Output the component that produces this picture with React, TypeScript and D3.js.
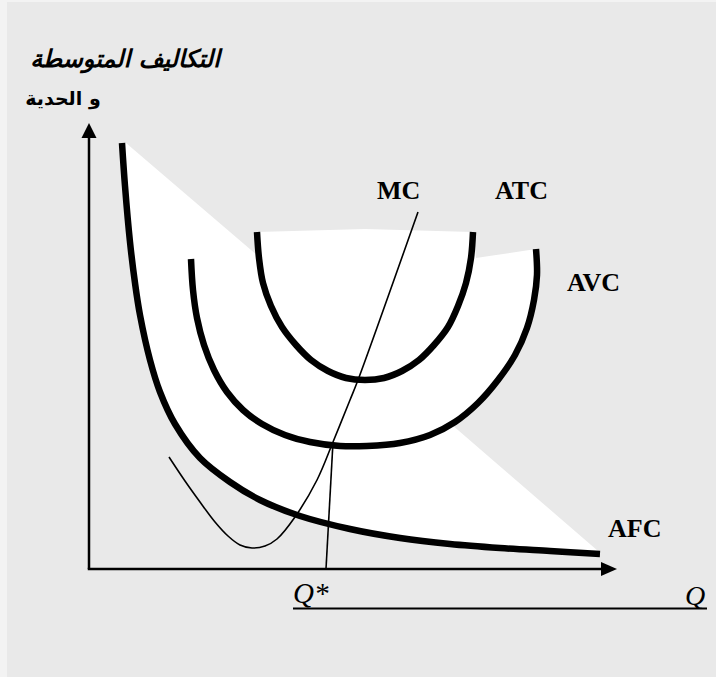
import React, { useEffect } from 'react';
import * as d3 from 'd3';

type P = [number, number];

// Data units: quantity (0..528) on x, cost (0..446) on y
const afcPoints: P[] = [
  [33, 426], [36, 383], [41, 327], [46, 286], [51, 254], [61, 209], [71, 177],
  [86, 145], [111, 111], [141, 87], [171, 69], [211, 53], [261, 40], [311, 31],
  [361, 25], [411, 21], [461, 18], [511, 15],
];
const atcPoints: P[] = [
  [168, 337], [170, 311], [174, 286], [182, 263], [193, 242], [207, 224], [222, 209],
  [239, 198], [257, 191], [276, 189], [295, 191], [313, 198], [330, 209], [345, 224],
  [359, 242], [369, 263], [377, 286], [382, 311], [384, 337],
];
const avcPoints: P[] = [
  [102, 310], [104, 279], [108, 251], [115, 224], [125, 199], [138, 177], [154, 159],
  [173, 145], [196, 134], [221, 127], [251, 123], [278, 123], [311, 126], [341, 134],
  [366, 147], [389, 166], [409, 189], [426, 214], [438, 241], [445, 269], [448, 294],
  [447, 320],
];
const mcPoints: P[] = [
  [80, 112], [96, 88], [111, 67], [126, 47], [139, 33], [151, 24], [163, 21],
  [176, 23], [188, 30], [206, 52], [228, 89], [244, 127], [261, 169], [269, 189],
  [329, 357],
];
const qStarLine: P[] = [[237, 0], [244, 127]];
// white region helpers
const diagonalStart: P = [37, 426];
const diagonalEnd: P = [509, 18];
const diagonalAvcCross: P = [362, 145];
const avcRightUpper: P[] = [
  [366, 147], [389, 166], [409, 189], [426, 214], [438, 241], [445, 269], [448, 294], [447, 320],
];
const capPoints: P[] = [[387, 311], [384, 337], [276, 340], [168, 337], [169, 313]];

const curveLabels = [
  { text: 'MC', x: 377, y: 199 },
  { text: 'ATC', x: 495, y: 199 },
  { text: 'AVC', x: 567, y: 291 },
  { text: 'AFC', x: 608, y: 537 },
];

export default function App() {
  useEffect(() => {
    document.body.style.margin = '0';
  }, []);

  const x = d3.scaleLinear().domain([0, 528]).range([89, 617]);
  const y = d3.scaleLinear().domain([0, 446]).range([569, 123]);
  const line = d3
    .line<P>()
    .x((d) => x(d[0]))
    .y((d) => y(d[1]))
    .curve(d3.curveCatmullRom.alpha(0.5));
  const straight = d3
    .line<P>()
    .x((d) => x(d[0]))
    .y((d) => y(d[1]));

  const L = (p: P) => `L${x(p[0])},${y(p[1])}`;
  const seg = (pts: P[]) => (line(pts) || '').replace(/^M/, 'L');
  const whiteD =
    (line(afcPoints) || '') +
    L(diagonalEnd) +
    L(diagonalAvcCross) +
    seg(avcRightUpper) +
    capPoints.map(L).join('') +
    L(diagonalStart) +
    'Z';

  const x0 = x(0);
  const y0 = y(0);
  const xEnd = x(528);
  const yTop = y(446);
  const qs = x(qStarLine[0][0]);

  return (
    <svg width={716} height={677} style={{ display: 'block', position: 'absolute', left: 0, top: 0 }}>
      <rect x={0} y={0} width={716} height={677} fill="#f3f3f3" />
      <rect x={7} y={2} width={709} height={675} fill="#e9e9e9" />
      <path d={whiteD} fill="#ffffff" stroke="none" />

      {/* axes */}
      <line x1={x0} y1={y0} x2={x0} y2={yTop + 12} stroke="#000" strokeWidth={2.5} />
      <path d={`M${x0},${yTop} L${x0 - 7.5},${yTop + 15} L${x0 + 7.5},${yTop + 15} Z`} fill="#000" />
      <line x1={x0 - 1.25} y1={y0} x2={xEnd - 12} y2={y0} stroke="#000" strokeWidth={2.5} />
      <path d={`M${xEnd},${y0} L${xEnd - 16},${y0 - 7} L${xEnd - 16},${y0 + 7} Z`} fill="#000" />

      {/* curves */}
      <path d={line(afcPoints) || ''} fill="none" stroke="#000" strokeWidth={6.5} />
      <path d={line(avcPoints) || ''} fill="none" stroke="#000" strokeWidth={6.5} />
      <path d={line(atcPoints) || ''} fill="none" stroke="#000" strokeWidth={6.5} />
      <path d={line(mcPoints) || ''} fill="none" stroke="#000" strokeWidth={1.6} />
      <path d={straight(qStarLine) || ''} fill="none" stroke="#000" strokeWidth={1.6} />

      {/* curve labels */}
      {curveLabels.map((l) => (
        <text
          key={l.text}
          x={l.x}
          y={l.y}
          fontFamily="'Liberation Serif', 'Times New Roman', serif"
          fontWeight="bold"
          fontSize={26}
          fill="#000"
        >
          {l.text}
        </text>
      ))}

      {/* quantity labels */}
      <text x={qs - 33} y={603} fontFamily="'Liberation Serif', serif" fontStyle="italic" fontSize={29} fill="#000">
        Q*
      </text>
      <text x={685} y={605} fontFamily="'Liberation Serif', serif" fontStyle="italic" fontSize={28} fill="#000">
        Q
      </text>
      <line x1={293} y1={608.5} x2={707} y2={608.5} stroke="#000" strokeWidth={2} />

      {/* y-axis title */}
      <text
        x={125}
        y={67}
        textAnchor="middle"
        fontFamily="'DejaVu Sans', sans-serif"
        fontWeight="bold"
        fontStyle="italic"
        fontSize={24}
        fill="#000"
      >
        التكاليف المتوسطة
      </text>
      <text
        x={63}
        y={105}
        textAnchor="middle"
        fontFamily="'DejaVu Sans', sans-serif"
        fontWeight="bold"
        fontSize={19}
        fill="#000"
      >
        و الحدية
      </text>
    </svg>
  );
}
